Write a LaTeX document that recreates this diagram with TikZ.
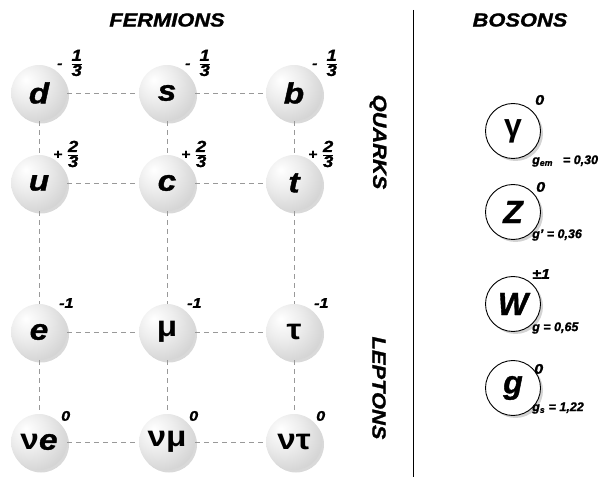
\documentclass[tikz,border=0pt]{standalone}
\usepackage{fontspec}
\setmainfont{Liberation Sans}[BoldItalicFeatures={FakeBold=1.2}]
\usepackage{graphicx}
\usetikzlibrary{shadows}
\newcommand\wide[1]{\scalebox{1.15}[1]{#1}}
\newcommand\frc[2]{\begin{tabular}{@{}c@{}}#1\\[-1.5pt]\hline\rule{0pt}{12pt}#2\end{tabular}}
\newcommand\sgn[1]{\raisebox{1.5pt}{\fontsize{13.5}{13.5}\selectfont #1}}
\pgfdeclareradialshading{pearl}{\pgfpoint{-12bp}{12bp}}{color(0bp)=(white); color(16bp)=(black!7); color(40bp)=(black!20); color(58bp)=(black!36); color(80bp)=(black!42)}

\begin{document}
\begin{tikzpicture}[x=1pt,y=-1pt,
  ferm/.style={circle, minimum size=56pt, inner sep=0pt, shade, shading=pearl,
    drop shadow={shadow xshift=2pt, shadow yshift=-2.5pt, opacity=.3},
    font=\fontsize{29}{29}\selectfont\bfseries\itshape},
  bos/.style={circle, minimum size=55pt, inner sep=0pt, draw=black, line width=.9pt, fill=white,
    drop shadow={shadow xshift=2.5pt, shadow yshift=-2.5pt, opacity=.35},
    font=\fontsize{32}{32}\selectfont\bfseries\itshape},
  link/.style={black!40, dash pattern=on 5pt off 4pt, line width=.8pt},
  charge/.style={anchor=west, inner sep=0pt, font=\fontsize{14}{14}\selectfont\bfseries\itshape},
  third/.style={charge, font=\fontsize{16}{14}\selectfont\bfseries\itshape},
  coup/.style={anchor=west, inner sep=0pt, font=\fontsize{12.5}{12.5}\selectfont\bfseries\itshape},
  head/.style={font=\fontsize{19}{19}\selectfont\bfseries\itshape}]

\useasboundingbox (0,0) rectangle (603,489);

% headings
\node[head] (fermions) at (167,20) {\wide{FERMIONS}};
\node[head] (bosons) at (520,20) {\wide{BOSONS}};
\node[head, rotate=-90] (quarks) at (378,142) {\wide{QUARKS}};
\node[head, rotate=-90] (leptons) at (379,388) {\wide{LEPTONS}};

\coordinate (top) at (413,10);
\coordinate (bot) at (413,477);
\draw[black, line width=1pt] (top)--(bot);

% quarks
\node[ferm] (d) at (39,93) {\wide{d}};
\node[ferm] (s) at (167,93) {\wide{s}};
\node[ferm] (b) at (294,93) {\wide{b}};
\node[ferm] (u) at (39,183) {\wide{u}};
\node[ferm] (c) at (167,183) {\wide{c}};
\node[ferm] (t) at (294,183) {\wide{t}};

% leptons
\node[ferm] (e) at (39,332) {\wide{e}};
\node[ferm] (mu) at (167,332) {\wide{\upshape μ}};
\node[ferm] (tau) at (294,332) {\wide{\upshape τ}};
\node[ferm] (nue) at (39,442) {\wide{{\upshape ν}e}};
\node[ferm] (numu) at (167,442) {\wide{\upshape νμ}};
\node[ferm] (nutau) at (294,442) {\wide{\upshape ντ}};

\draw[link] (d)--(s); \draw[link] (s)--(b);
\draw[link] (u)--(c); \draw[link] (c)--(t);
\draw[link] (e)--(mu); \draw[link] (mu)--(tau);
\draw[link] (nue)--(numu); \draw[link] (numu)--(nutau);
\draw[link] (d)--(u); \draw[link] (u)--(e); \draw[link] (e)--(nue);
\draw[link] (s)--(c); \draw[link] (c)--(mu); \draw[link] (mu)--(numu);
\draw[link] (b)--(t); \draw[link] (t)--(tau); \draw[link] (tau)--(nutau);

% charges
\node[third] (dq) at ([shift={(18,-28)}]d.center) {\wide{\sgn{-}\hspace{8pt}\frc{1}{3}}};
\node[third] (sq) at ([shift={(18,-28)}]s.center) {\wide{\sgn{-}\hspace{8pt}\frc{1}{3}}};
\node[third] (bq) at ([shift={(18,-28)}]b.center) {\wide{\sgn{-}\hspace{8pt}\frc{1}{3}}};
\node[third] (uq) at ([shift={(14,-27)}]u.center) {\wide{\sgn{+}\hspace{5pt}\frc{2}{3}}};
\node[third] (cq) at ([shift={(14,-27)}]c.center) {\wide{\sgn{+}\hspace{5pt}\frc{2}{3}}};
\node[third] (tq) at ([shift={(14,-27)}]t.center) {\wide{\sgn{+}\hspace{5pt}\frc{2}{3}}};
\node[charge] (eq) at ([shift={(20,-29)}]e.center) {\wide{-1}};
\node[charge] (muq) at ([shift={(20,-29)}]mu.center) {\wide{-1}};
\node[charge] (tauq) at ([shift={(20,-29)}]tau.center) {\wide{-1}};
\node[charge] (nueq) at ([shift={(22,-26)}]nue.center) {\wide{0}};
\node[charge] (numuq) at ([shift={(22,-26)}]numu.center) {\wide{0}};
\node[charge] (nutauq) at ([shift={(22,-26)}]nutau.center) {\wide{0}};

% bosons
\node[bos] (gam) at (513,131) {\upshape γ};
\node[bos] (Z) at (513,212) {Z};
\node[bos] (W) at (513,304) {W};
\node[bos] (glu) at (513,388) {g};

\node[charge] (gamq) at (535,100) {\wide{0}};
\node[charge] (Zq) at (536,187) {\wide{0}};
\node[charge] (Wq) at (532,274) {\wide{±1}};
\node[charge] (gluq) at (534,369) {\wide{0}};

\node[coup] (gamc) at (532,161) {g\textsubscript{em}\hspace{10pt}= 0,30};
\node[coup] (Zc) at (532,235) {g' = 0,36};
\node[coup] (Wc) at (532,328) {g = 0,65};
\node[coup] (gluc) at (532,408) {g\textsubscript{s} = 1,22};

\end{tikzpicture}
\end{document}
